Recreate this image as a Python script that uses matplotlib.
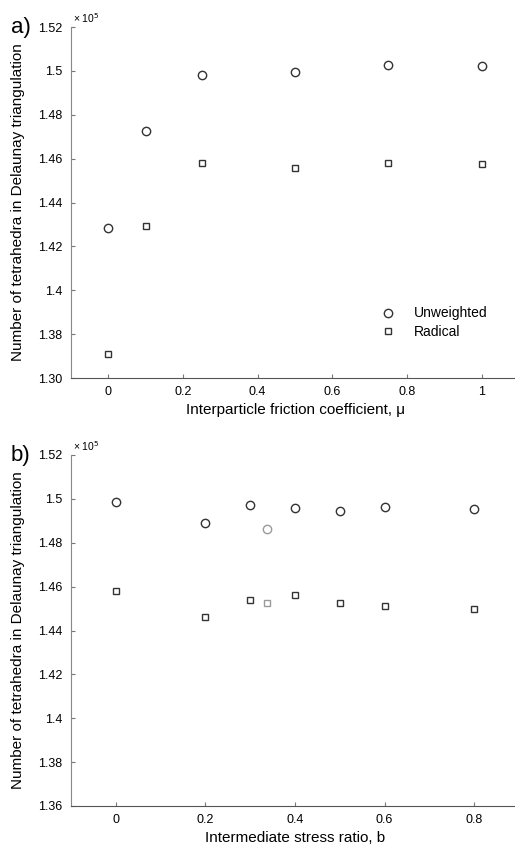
import numpy as np
import matplotlib
matplotlib.use("Agg")
import matplotlib.pyplot as plt

plt.rcParams.update({
    "font.family": ["Liberation Sans", "DejaVu Sans"],
    "font.size": 10,
})

# --- (a) friction coefficient ---
mu = [0, 0.1, 0.25, 0.5, 0.75, 1.0]
unw_mu = [1.4285, 1.4727, 1.4983, 1.4995, 1.5026, 1.5021]
rad_mu = [1.3708, 1.4291, 1.4579, 1.4556, 1.4579, 1.4576]

# --- (b) intermediate stress ratio ---
b_vals = [0, 0.2, 0.3, 0.4, 0.5, 0.6, 0.8]
unw_b = [1.4985, 1.4891, 1.4974, 1.4960, 1.4947, 1.4964, 1.4956]
rad_b = [1.4582, 1.4460, 1.4538, 1.4562, 1.4527, 1.4511, 1.4500]
# extra point drawn in grey
b_grey = [0.337]
unw_grey = [1.4862]
rad_grey = [1.4526]

yticks = [1.36, 1.38, 1.40, 1.42, 1.44, 1.46, 1.48, 1.50, 1.52]
ylabels_a = ["1.30", "1.38", "1.4", "1.42", "1.44", "1.46", "1.48", "1.5", "1.52"]
ylabels_b = ["1.36", "1.38", "1.4", "1.42", "1.44", "1.46", "1.48", "1.5", "1.52"]

dark = "#333333"
grey = "#9a9a9a"
ylab = "Number of tetrahedra in Delaunay triangulation"

fig = plt.figure(figsize=(5.15, 8.47), dpi=100)
ax1 = fig.add_axes([71 / 515, 1 - 378 / 847, 448 / 515, 351 / 847])
ax2 = fig.add_axes([71 / 515, 1 - 806 / 847, 448 / 515, 351 / 847])


def style(ax):
    for s in ["top", "right"]:
        ax.spines[s].set_visible(False)
    ax.spines["left"].set_color("#888888")
    ax.spines["bottom"].set_color("#555555")
    ax.tick_params(direction="in", length=3, width=0.8, color="#777777",
                   labelsize=9, pad=6)
    ax.set_ylim(1.36, 1.52)
    ax.set_yticks(yticks)


# panel a
ax1.plot(mu, unw_mu, "o", mfc="white", mec=dark, ms=6, mew=1, label="Unweighted")
ax1.plot(mu, rad_mu, "s", mfc="white", mec=dark, ms=4.5, mew=1, label="Radical")
style(ax1)
ax1.set_xlim(-0.1, 1.1)
ax1.set_xticks([0, 0.2, 0.4, 0.6, 0.8, 1])
ax1.set_xticklabels(["0", "0.2", "0.4", "0.6", "0.8", "1"])
ax1.set_yticklabels(ylabels_a)
ax1.set_xlabel("Interparticle friction coefficient, μ", fontsize=11, labelpad=3)
ax1.set_ylabel(ylab, fontsize=11)
ax1.legend(loc="center left", bbox_to_anchor=(0.66, 0.157), frameon=False,
           handlelength=1.2, handletextpad=1.3, labelspacing=0.35, fontsize=10)

# panel b
ax2.plot(b_vals, unw_b, "o", mfc="white", mec=dark, ms=6, mew=1)
ax2.plot(b_vals, rad_b, "s", mfc="white", mec=dark, ms=4.5, mew=1)
ax2.plot(b_grey, unw_grey, "o", mfc="white", mec=grey, ms=6, mew=1)
ax2.plot(b_grey, rad_grey, "s", mfc="white", mec=grey, ms=4.5, mew=1)
style(ax2)
ax2.set_xlim(-0.1, 0.9)
ax2.set_xticks([0, 0.2, 0.4, 0.6, 0.8])
ax2.set_xticklabels(["0", "0.2", "0.4", "0.6", "0.8"])
ax2.set_yticklabels(ylabels_b)
ax2.set_xlabel("Intermediate stress ratio, b", fontsize=11, labelpad=3)
ax2.set_ylabel(ylab, fontsize=11)

# panel letters and exponent marks
for ax, letter in [(ax1, "a)"), (ax2, "b)")]:
    ax.yaxis.set_label_coords(-0.102, 0.5)
    ax.text(-0.09, 1.0, letter, transform=ax.transAxes, fontsize=16,
            ha="right", va="center")
    ax.text(0.005, 1.025, r"× 10$^5$", transform=ax.transAxes, fontsize=7.5,
            ha="left", va="center")

fig.savefig("out.png", dpi=100)
